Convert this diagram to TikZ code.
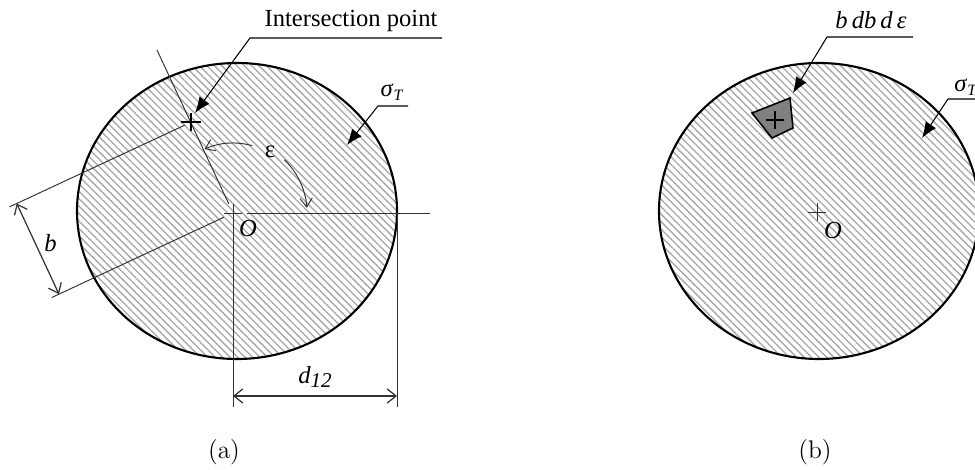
\documentclass[tikz,border=0pt]{standalone}
\usepackage{fontspec}
\usetikzlibrary{arrows.meta,patterns.meta}
\newfontfamily\figfont{Liberation Serif}

\begin{document}
\begin{tikzpicture}[x=0.02cm, y=0.02cm,
    hatched/.style={pattern={Lines[angle=-45,distance=3pt,line width=0.75pt]}, pattern color=gray!70},
    rim/.style={line width=1.2pt},
    thinline/.style={black!80, line width=0.55pt},
    barb/.style={-{Straight Barb[length=5pt,width=7pt]}},
    dimline/.style={black!80, line width=0.7pt, {Straight Barb[length=5pt,width=8pt]}-{Straight Barb[length=5pt,width=8pt]}},
    leader/.style={line width=0.6pt, -{Latex[length=9pt,width=7pt]}},
    lbl/.style={font=\figfont\fontsize{14}{16}\selectfont, inner sep=0pt},
    captext/.style={font=\fontsize{14.5}{16}\selectfont}]
  \clip (0,0) rectangle (975,470);

  % (a) cross section with impact parameter
  \coordinate (Oa) at (233,257);
  \draw[rim, hatched] (237,259) ellipse [x radius=160, y radius=148];
  \path (Oa) ++(115:100) coordinate (P);
  \draw[thinline] (Oa) ++(-9,0) -- ++(18,0);
  \draw[thinline] (Oa) ++(0,9) -- (233,63);
  \draw[thinline] (247,257) -- (430,257);
  \draw[thinline] (397,257) -- (397,63);
  \draw[thinline] (Oa) ++(115:10) -- ++(115:170);
  \draw[thinline] (P) ++(205:6) -- ++(205:194);
  \draw[thinline] (Oa) ++(205:10) -- ++(205:190);
  \path (P) ++(205:192) coordinate (bp);
  \path (Oa) ++(205:192) coordinate (bo);
  \draw[dimline] (bp) -- (bo);
  \path (Oa) ++(115:50) ++(205:178) node[lbl] (blab) {\textit{b}};
  \coordinate (dl) at (233,74);
  \coordinate (dr) at (397,74);
  \draw[dimline] (dl) -- (dr);
  \node[lbl] (dlab) at (315,93) {\textit{d}\raisebox{-0.35ex}{\fontsize{12}{12}\selectfont\textit{12}}};
  \node[lbl] (Olab) at (248,242) {\textit{O}};
  \draw[line width=1.1pt] (P) ++(-10,0) -- ++(20,0);
  \draw[line width=1.1pt] (P) ++(0,-9) -- ++(0,18);
  \node[lbl] (eps) at (270,318) {ε};
  \draw[thinline, barb] (Oa) ++(74:70) arc[start angle=74, end angle=114, radius=70];
  \draw[thinline, barb] (Oa) ++(46:74) arc[start angle=46, end angle=4, radius=74];
  \node[lbl, anchor=base] (ip) at (351,443) {Intersection point};
  \coordinate (ipr) at (442,432);
  \coordinate (ipl) at (250,432);
  \coordinate (ipt) at (195,357);
  \draw[leader] (ipr) -- (ipl) -- (ipt);
  \node[lbl, anchor=base] (siga) at (392,373) {\textit{σ}\raisebox{-0.3ex}{\fontsize{9}{9}\selectfont\textit{T}}};
  \coordinate (sar) at (408,364);
  \coordinate (sal) at (378,364);
  \coordinate (sat) at (347,325);
  \draw[leader] (sar) -- (sal) -- (sat);
  \node[captext] (capa) at (224,18) {(a)};

  % (b) area element
  \coordinate (Ob) at (817,258);
  \draw[rim, hatched] (819,259) ellipse [x radius=160, y radius=148];
  \draw[thinline] (Ob) ++(-9,0) -- ++(18,0);
  \draw[thinline] (Ob) ++(0,-9) -- ++(0,18);
  \node[lbl] (Olbb) at (833,240) {\textit{O}};
  \filldraw[fill=black!50, draw=black, line width=0.9pt] (752,357) -- (790,372) -- (793,342) -- (772,332) -- cycle;
  \coordinate (E) at (775,350);
  \draw[line width=1.1pt] (E) ++(-9,0) -- ++(18,0);
  \draw[line width=1.1pt] (E) ++(0,-9) -- ++(0,18);
  \node[lbl, anchor=base] (elab) at (871,441) {\textit{b\,db\,d\,ε}};
  \coordinate (er) at (913,433);
  \coordinate (el) at (827,433);
  \coordinate (et) at (793,377);
  \draw[leader] (er) -- (el) -- (et);
  \node[lbl, anchor=base west] (sigb) at (954,378) {\textit{σ}\raisebox{-0.3ex}{\fontsize{9}{9}\selectfont\textit{T}}};
  \coordinate (sbr) at (990,371);
  \coordinate (sbl) at (948,371);
  \coordinate (sbt) at (922,332);
  \draw[leader] (sbr) -- (sbl) -- (sbt);
  \node[captext] (capb) at (815,18) {(b)};
\end{tikzpicture}
\end{document}
